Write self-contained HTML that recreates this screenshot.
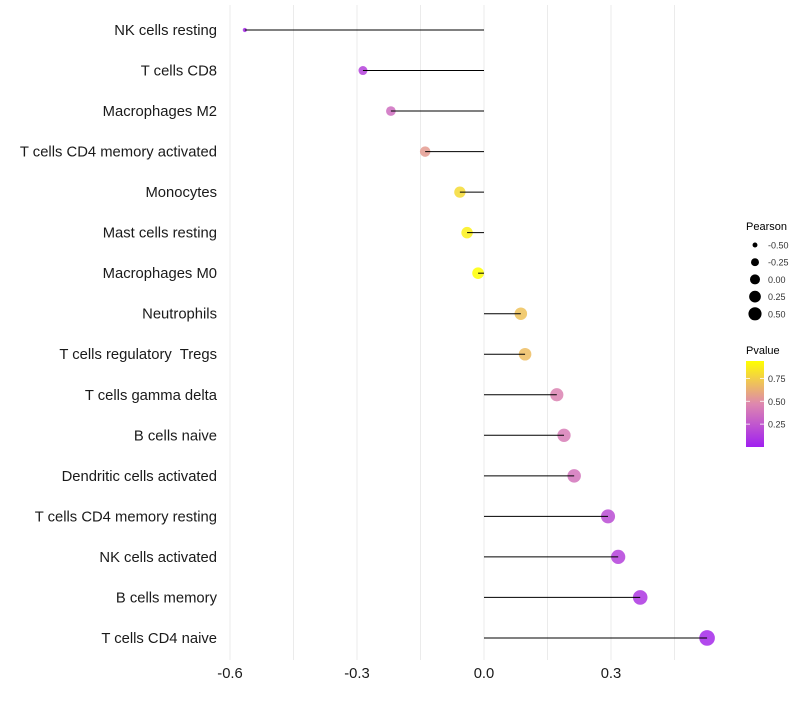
<!DOCTYPE html>
<html><head><meta charset="utf-8"><style>
body{margin:0;background:#fff;}
svg text{font-family:"Liberation Sans",sans-serif;white-space:pre;}
</style></head><body>
<svg id="chart" width="800" height="700" xmlns="http://www.w3.org/2000/svg">
<g id="grid"></g>
<g id="marks"></g>
<g id="ylabels"></g>
<g id="xlabels"></g>
<g id="legend"></g>
</svg>
<script>
const categories=["NK cells resting","T cells CD8","Macrophages M2","T cells CD4 memory activated","Monocytes","Mast cells resting","Macrophages M0","Neutrophils","T cells regulatory  Tregs","T cells gamma delta","B cells naive","Dendritic cells activated","T cells CD4 memory resting","NK cells activated","B cells memory","T cells CD4 naive"];
const pearson=[-0.565,-0.286,-0.22,-0.139,-0.057,-0.04,-0.014,0.087,0.097,0.172,0.189,0.213,0.293,0.317,0.369,0.527];
const pvalues=[0.05,0.15,0.35,0.55,0.8,0.88,0.94,0.7,0.68,0.45,0.42,0.38,0.2,0.15,0.1,0.04];
const xTicks=[-0.6,-0.3,0.0,0.3];
const xTickLabels=["-0.6","-0.3","0.0","0.3"];
const gridTicks=[-0.6,-0.45,-0.3,-0.15,0,0.15,0.3,0.45];
const sizeLegend=[-0.5,-0.25,0,0.25,0.5];
const sizeLegendLabels=["-0.50","-0.25","0.00","0.25","0.50"];
const pLegend=[0.75,0.5,0.25];

const NS="http://www.w3.org/2000/svg";
const x=v=>484+v*423.3;
const y=i=>30+i*40.53;
const pMin=0,pMax=0.94;
const vMin=Math.min(...pearson),vMax=Math.max(...pearson);
const rScale=v=>{const t=Math.max(0,(v-vMin)/(vMax-vMin));return Math.sqrt(2.25+(52-2.25)*t)+0.6;};
const stops=[[0,[160,32,240]],[0.5,[222,135,175]],[1,[255,255,0]]];
function col(p){let t=Math.max(0,Math.min(1,(p-pMin)/(pMax-pMin)));
 let a=stops[0],b=stops[1]; if(t>0.5){a=stops[1];b=stops[2];}
 const u=(t-a[0])/(b[0]-a[0]);
 return "rgb("+a[1].map((c,k)=>Math.round(c+(b[1][k]-c)*u)).join(",")+")";}
function el(tag,attrs,parent,txt){const e=document.createElementNS(NS,tag);for(const k in attrs)e.setAttribute(k,attrs[k]);if(txt!==undefined)e.textContent=txt;parent.appendChild(e);return e;}

const grid=document.getElementById('grid');
gridTicks.forEach(t=>{const l=el('line',{x1:x(t),x2:x(t),y1:5,y2:660,stroke:'#ebebeb','stroke-width':1},grid);

});

const marks=document.getElementById('marks');
const yl=document.getElementById('ylabels');
categories.forEach((c,i)=>{
 const cir=el('circle',{cx:x(pearson[i]),cy:y(i),r:rScale(pearson[i]),fill:col(pvalues[i]),'fill-opacity':0.85},marks);
 
 
 const ln=el('line',{x1:x(0),x2:x(pearson[i]),y1:y(i),y2:y(i),stroke:'#000','stroke-width':1},marks);
 
 
 const t=el('text',{x:217,y:y(i)+5,'text-anchor':'end','font-size':14.8,fill:'#1a1a1a'},yl,c);
 
 
});
const xl=document.getElementById('xlabels');
xTicks.forEach((t,i)=>{const tx=el('text',{x:x(t),y:678,'text-anchor':'middle','font-size':14.8,fill:'#1a1a1a'},xl,xTickLabels[i]);

});

const lg=document.getElementById('legend');
const lt=el('text',{x:746,y:230,'font-size':11,fill:'#000'},lg,'Pearson');


sizeLegend.forEach((v,i)=>{const cy=245+i*17.2;
 const c=el('circle',{cx:755,cy:cy,r:rScale(v)*0.85,fill:'#000'},lg);
 
 
 const t=el('text',{x:768,y:cy+3.5,'font-size':9,fill:'#333'},lg,sizeLegendLabels[i]);
 
 });
const pt=el('text',{x:746,y:354,'font-size':11,fill:'#000'},lg,'Pvalue');


const defs=el('defs',{},lg);
const gr=el('linearGradient',{id:'pg',x1:0,y1:1,x2:0,y2:0},defs);
[0,0.25,0.5,0.75,1].forEach(o=>el('stop',{offset:o,'stop-color':col(pMin+o*(pMax-pMin))},gr));
const bar=el('rect',{x:746,y:361,width:18,height:86,fill:'url(#pg)'},lg);


pLegend.forEach(p=>{const yy=447-(p-pMin)/(pMax-pMin)*86;
 el('line',{x1:746,x2:750,y1:yy,y2:yy,stroke:'#fff','stroke-width':0.8},lg);
 el('line',{x1:760,x2:764,y1:yy,y2:yy,stroke:'#fff','stroke-width':0.8},lg);
 const t=el('text',{x:768,y:yy+3.5,'font-size':9,fill:'#333'},lg,p.toFixed(2));
 
 });
</script>
</body></html>
